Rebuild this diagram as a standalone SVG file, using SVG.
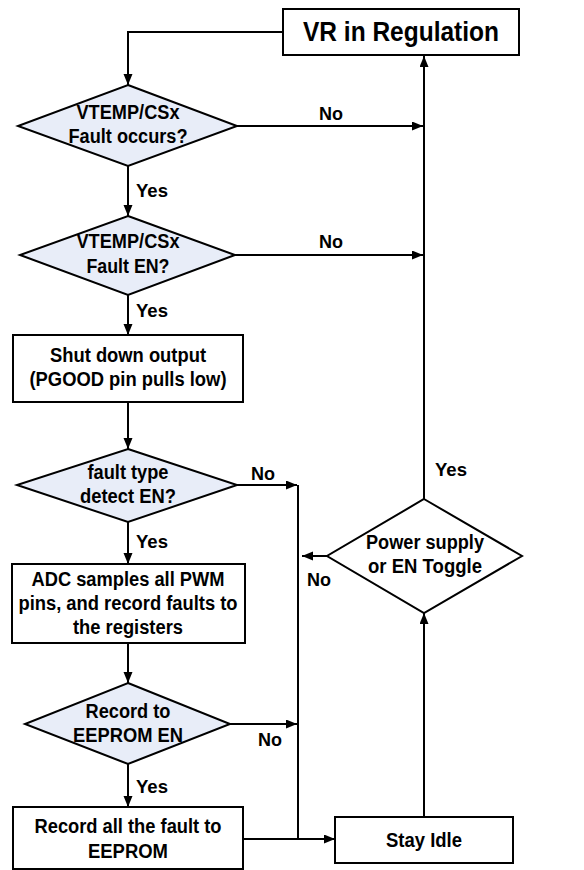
<svg xmlns="http://www.w3.org/2000/svg" width="584" height="870" viewBox="0 0 584 870">
<defs>
<marker id="arr" markerUnits="userSpaceOnUse" markerWidth="12" markerHeight="10" refX="11" refY="4.5" orient="auto">
<path d="M0,0 L11,4.5 L0,9 z" fill="#000"/>
</marker>
<style>
.box{fill:#fff;stroke:#000;stroke-width:2}
.dia{fill:#e8edf8;stroke:#000;stroke-width:2}
.t{font-family:"Liberation Sans",Arial,sans-serif;font-weight:bold;font-size:20px;fill:#000;text-anchor:middle}
.lbl{font-family:"Liberation Sans",Arial,sans-serif;font-weight:bold;font-size:19px;fill:#000}
.c{fill:none;stroke:#000;stroke-width:2}
</style>
</defs>
<rect width="584" height="870" fill="#fff"/>
<g id="connectors">
<path class="c" d="M283,32 H128 V85" marker-end="url(#arr)"/>
<path class="c" d="M237,126 H423" marker-end="url(#arr)"/>
<path class="c" d="M128,166 V216" marker-end="url(#arr)"/>
<path class="c" d="M235,255 H423" marker-end="url(#arr)"/>
<path class="c" d="M128,295 V335" marker-end="url(#arr)"/>
<path class="c" d="M128,402 V449" marker-end="url(#arr)"/>
<path class="c" d="M237,485 H297" marker-end="url(#arr)"/>
<path class="c" d="M128,522 V564" marker-end="url(#arr)"/>
<path class="c" d="M128,643 V683" marker-end="url(#arr)"/>
<path class="c" d="M230,724 H297" marker-end="url(#arr)"/>
<path class="c" d="M128,764 V807" marker-end="url(#arr)"/>
<path class="c" d="M298,485 V839"/>
<path class="c" d="M243,839 H335" marker-end="url(#arr)"/>
<path class="c" d="M424,817 V613" marker-end="url(#arr)"/>
<path class="c" d="M424,499 V56" marker-end="url(#arr)"/>
<path class="c" d="M327,556 H302" marker-end="url(#arr)"/>
<text class="lbl" x="319" y="120" textLength="24" lengthAdjust="spacingAndGlyphs">No</text>
<text class="lbl" x="319" y="248" textLength="24" lengthAdjust="spacingAndGlyphs">No</text>
<text class="lbl" x="136" y="197" textLength="32" lengthAdjust="spacingAndGlyphs">Yes</text>
<text class="lbl" x="136" y="317" textLength="32" lengthAdjust="spacingAndGlyphs">Yes</text>
<text class="lbl" x="251" y="480" textLength="24" lengthAdjust="spacingAndGlyphs">No</text>
<text class="lbl" x="136" y="548" textLength="32" lengthAdjust="spacingAndGlyphs">Yes</text>
<text class="lbl" x="258" y="746" textLength="24" lengthAdjust="spacingAndGlyphs">No</text>
<text class="lbl" x="136" y="793" textLength="32" lengthAdjust="spacingAndGlyphs">Yes</text>
<text class="lbl" x="435" y="476" textLength="32" lengthAdjust="spacingAndGlyphs">Yes</text>
<text class="lbl" x="307" y="586" textLength="24" lengthAdjust="spacingAndGlyphs">No</text>
</g>
<g id="vr">
<rect class="box" x="283" y="9" width="236" height="46"/>
<text class="t" x="401" y="41" style="font-size:27px" textLength="196" lengthAdjust="spacingAndGlyphs">VR in Regulation</text>
</g>
<g id="d1">
<polygon class="dia" points="128,85 237,126 128,166 18,126"/>
<text class="t" x="128" y="119" textLength="103" lengthAdjust="spacingAndGlyphs">VTEMP/CSx</text>
<text class="t" x="128" y="143" textLength="119" lengthAdjust="spacingAndGlyphs">Fault occurs?</text>
</g>
<g id="d2">
<polygon class="dia" points="128,216 235,255 128,295 20,255"/>
<text class="t" x="128" y="248" textLength="103" lengthAdjust="spacingAndGlyphs">VTEMP/CSx</text>
<text class="t" x="128" y="273" textLength="83" lengthAdjust="spacingAndGlyphs">Fault EN?</text>
</g>
<g id="shutdown">
<rect class="box" x="13" y="335" width="230" height="67"/>
<text class="t" x="128" y="362" textLength="156" lengthAdjust="spacingAndGlyphs">Shut down output</text>
<text class="t" x="128" y="386" textLength="197" lengthAdjust="spacingAndGlyphs">(PGOOD pin pulls low)</text>
</g>
<g id="d3">
<polygon class="dia" points="128,449 237,485 128,522 17,485"/>
<text class="t" x="128" y="479" textLength="81" lengthAdjust="spacingAndGlyphs">fault type</text>
<text class="t" x="128" y="503" textLength="96" lengthAdjust="spacingAndGlyphs">detect EN?</text>
</g>
<g id="adc">
<rect class="box" x="12" y="564" width="233" height="79"/>
<text class="t" x="128" y="586" textLength="193" lengthAdjust="spacingAndGlyphs">ADC samples all PWM</text>
<text class="t" x="128" y="610" textLength="219" lengthAdjust="spacingAndGlyphs">pins, and record faults to</text>
<text class="t" x="128" y="634" textLength="110" lengthAdjust="spacingAndGlyphs">the registers</text>
</g>
<g id="d4">
<polygon class="dia" points="128,683 230,724 128,764 25,724"/>
<text class="t" x="128" y="718" textLength="85" lengthAdjust="spacingAndGlyphs">Record to</text>
<text class="t" x="128" y="742" textLength="110" lengthAdjust="spacingAndGlyphs">EEPROM EN</text>
</g>
<g id="record">
<rect class="box" x="13" y="807" width="230" height="62"/>
<text class="t" x="128" y="833" textLength="187" lengthAdjust="spacingAndGlyphs">Record all the fault to</text>
<text class="t" x="128" y="858" textLength="80" lengthAdjust="spacingAndGlyphs">EEPROM</text>
</g>
<g id="idle">
<rect class="box" x="335" y="817" width="178" height="46"/>
<text class="t" x="424" y="847" textLength="76" lengthAdjust="spacingAndGlyphs">Stay Idle</text>
</g>
<g id="power">
<polygon class="dia" points="424,499 522,556 424,613 327,556" style="fill:#fff"/>
<text class="t" x="425" y="549" textLength="118" lengthAdjust="spacingAndGlyphs">Power supply</text>
<text class="t" x="425" y="573" textLength="114" lengthAdjust="spacingAndGlyphs">or EN Toggle</text>
</g>
</svg>
